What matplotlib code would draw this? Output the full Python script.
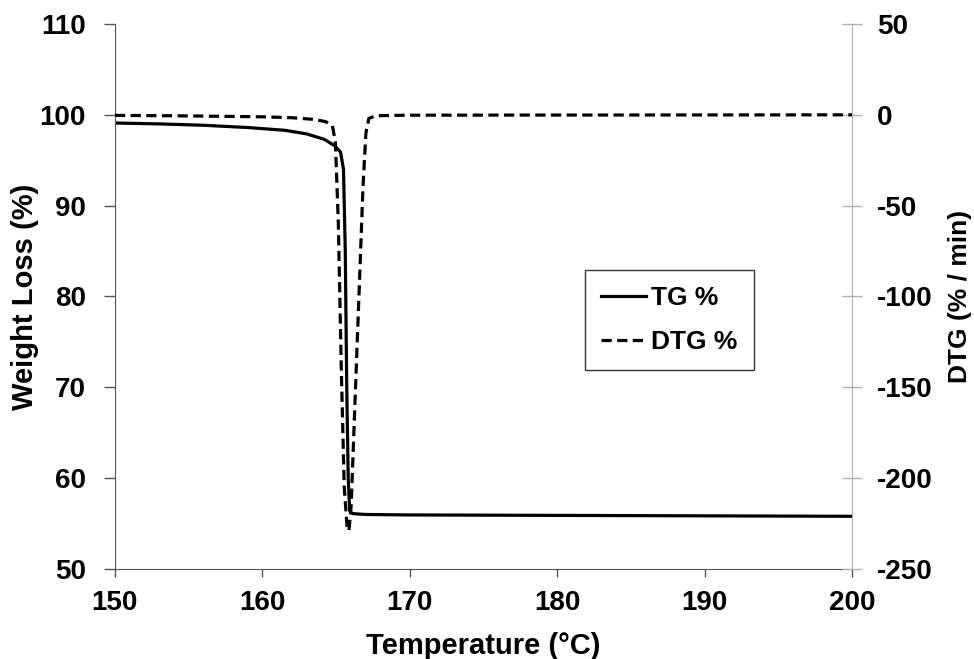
import matplotlib.pyplot as plt
import numpy as np

# TG curve (weight %)
tg_temp = [150, 153, 156, 159, 161.5, 163, 164.2, 164.9, 165.3, 165.5, 165.62,
           165.72, 165.82, 165.92, 166.1, 167, 170, 180, 190, 200]
tg_weight = [99.1, 99.0, 98.85, 98.6, 98.3, 97.9, 97.3, 96.6, 95.9, 94.0, 85.0,
             70.0, 60.0, 56.4, 56.1, 56.0, 55.95, 55.9, 55.85, 55.8]

# DTG curve (% / min)
dtg_temp = [150, 155, 160, 162, 163.5, 164.3, 164.75, 164.95, 165.15, 165.35, 165.55,
            165.75, 165.87, 166.02, 166.27, 166.57, 166.82, 167.02, 167.22, 167.7, 170, 200]
dtg_rate = [-0.3, -0.6, -1.1, -1.6, -2.5, -3.8, -6, -15, -60, -140, -205,
            -228, -229, -215, -160, -95, -40, -10, -2, -0.5, -0.2, 0]

plt.rcParams['font.family'] = ['Liberation Sans', 'DejaVu Sans']
plt.rcParams['font.weight'] = 'bold'
plt.rcParams['axes.unicode_minus'] = False

fig = plt.figure(figsize=(9.74, 6.59), dpi=100)
ax = fig.add_axes([0.118, 0.1366, 0.757, 0.827])
ax2 = ax.twinx()

l1, = ax.plot(tg_temp, tg_weight, color='black', lw=2.3, label='TG %')
l2, = ax2.plot(dtg_temp, dtg_rate, color='black', lw=2.3, ls=(0, (3.2, 1.7)), label='DTG %')

ax.set_xlim(150, 200)
ax.set_ylim(50, 110)
ax2.set_ylim(-250, 50)
ax.set_xticks(range(150, 201, 10))
ax.set_yticks(range(50, 111, 10))
ax2.set_yticks(range(-250, 51, 50))

ax.set_xlabel('Temperature (°C)', fontsize=21, fontweight='bold', labelpad=12)
ax.set_ylabel('Weight Loss (%)', fontsize=21, fontweight='bold', labelpad=0)
ax2.set_ylabel('DTG (% / min)', fontsize=19, fontweight='bold', labelpad=11)

for a in (ax, ax2):
    a.spines['top'].set_visible(False)
ax.spines['left'].set_color('#555555')
ax.spines['bottom'].set_color('#555555')
ax2.spines['left'].set_visible(False)
ax2.spines['bottom'].set_visible(False)
ax2.spines['right'].set_color('#b0b0b0')
ax.spines['right'].set_visible(False)

ax.tick_params(axis='y', direction='out', length=8, width=1, colors='#555555',
               labelsize=20, labelcolor='black', pad=13)
ax.tick_params(axis='x', direction='out', length=6, width=1, colors='#555555',
               labelsize=20, labelcolor='black', pad=9)
ax2.tick_params(axis='y', direction='inout', length=14, width=1, colors='#b0b0b0',
                labelsize=20, labelcolor='black', pad=11)
for lab in ax.get_xticklabels() + ax.get_yticklabels() + ax2.get_yticklabels():
    lab.set_fontweight('bold')

leg = ax.legend(handles=[l1, l2], loc='upper left', bbox_to_anchor=(0.638, 0.548),
                borderaxespad=0, fancybox=False, edgecolor='#333333', framealpha=1,
                prop={'size': 19, 'weight': 'bold'}, handlelength=1.7,
                handletextpad=0.2, borderpad=0.6, labelspacing=0.75)
leg.get_frame().set_linewidth(1.0)

fig.savefig('out.png', dpi=100)
